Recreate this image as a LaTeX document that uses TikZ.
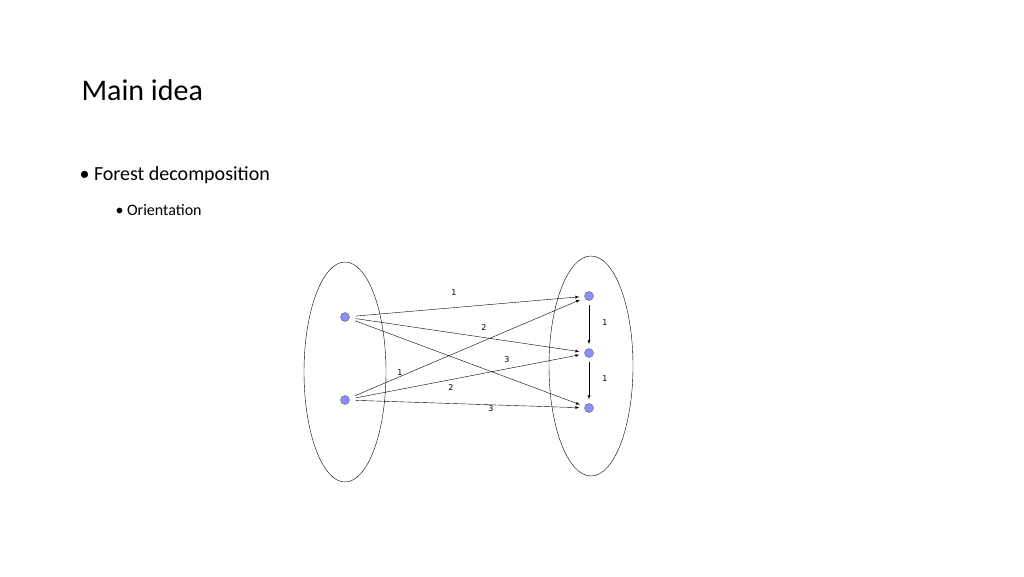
\documentclass[tikz,border=0pt]{standalone}
\usepackage{fontspec}
\setmainfont{Carlito}
\newfontfamily\lblfont{DejaVu Sans}
\begin{document}
\begin{tikzpicture}[x=1pt,y=-1pt,
  dot/.style={circle,draw=gray!80!black,fill=blue!45!white,inner sep=0pt,minimum size=9pt},
  arc/.style={-latex,thin,shorten <=6pt,shorten >=5pt},
  lbl/.style={font=\lblfont\fontsize{8}{9}\selectfont}]
\useasboundingbox (0,0) rectangle (1024,576);
\node[anchor=base west,font=\fontsize{30}{34}\selectfont] (title) at (78,100) {Main idea};
\node[anchor=base west,font=\fontsize{20}{24}\selectfont] (b1) at (76,180) {\textbullet\ Forest decomposition};
\node[anchor=base west,font=\fontsize{16}{20}\selectfont] (b2) at (112,215) {\textbullet\ Orientation};

\draw (345,372) ellipse (41 and 110);
\draw (591,366) ellipse (42 and 110);

\node[dot] (l1) at (345,317) {};
\node[dot] (l2) at (345,400) {};
\node[dot] (r1) at (589,296) {};
\node[dot] (r2) at (589,353) {};
\node[dot] (r3) at (589,408) {};

\draw[arc] (l1) -- (r1);
\draw[arc] (l1) -- (r2);
\draw[arc] (l1) -- (r3);
\draw[arc] (l2) -- (r1);
\draw[arc] (l2) -- (r2);
\draw[arc] (l2) -- (r3);
\draw[arc,shorten <=4pt,shorten >=4pt] (r1) -- (r2);
\draw[arc,shorten <=4pt,shorten >=4pt] (r2) -- (r3);

\node[lbl] at (454,293) {1};
\node[lbl] at (484,328) {2};
\node[lbl] at (507,360) {3};
\node[lbl] at (400,373) {1};
\node[lbl] at (451,388) {2};
\node[lbl] at (491,409) {3};
\node[lbl] at (605,323) {1};
\node[lbl] at (605,379) {1};
\end{tikzpicture}
\end{document}
